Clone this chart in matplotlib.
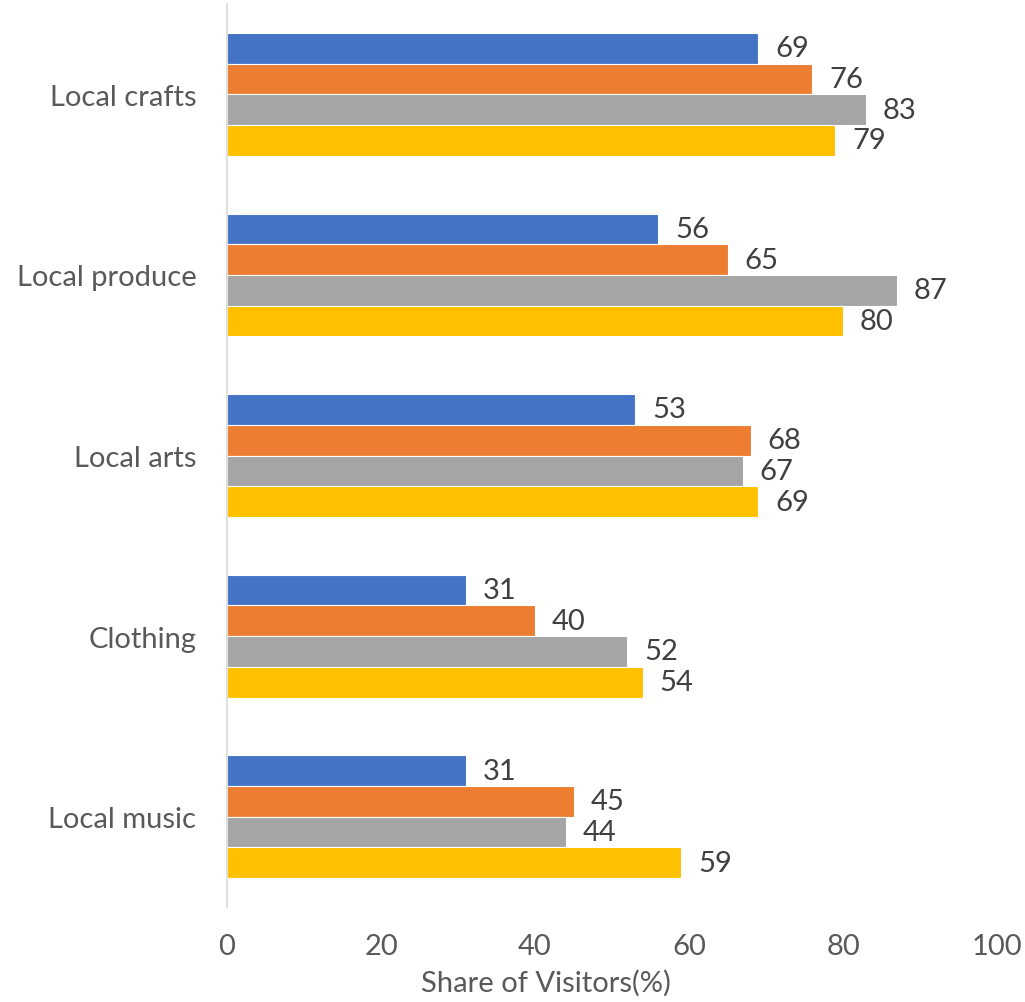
import numpy as np
import matplotlib.pyplot as plt

plt.rcParams['font.family'] = ['Lato', 'DejaVu Sans']

# categories listed bottom to top
categories = ["Local music", "Clothing", "Local arts", "Local produce", "Local crafts"]
series_1 = [31, 31, 53, 56, 69]
series_2 = [45, 40, 68, 65, 76]
series_3 = [44, 52, 67, 87, 83]
series_4 = [59, 54, 69, 80, 79]
colors = ["#4472C4", "#ED7D31", "#A5A5A5", "#FFC000"]
x_ticks = [0, 20, 40, 60, 80, 100]

fig = plt.figure(figsize=(10.25, 10.03), dpi=100)
ax = fig.add_axes([0.2215, 0.0947, 0.7512, 0.9003])

y = np.arange(len(categories))
h = 0.17
all_series = [series_1, series_2, series_3, series_4]
for i, (vals, c) in enumerate(zip(all_series, colors)):
    # first series sits on top within each group
    pos = y + (1.5 - i) * h
    bars = ax.barh(pos, vals, height=h, color=c, edgecolor="white", linewidth=0.8)
    for b, v in zip(bars, vals):
        ax.text(v + 2.2, b.get_y() + h / 2, str(v), va="center", ha="left",
                fontsize=21, color="#404040")

ax.set_xlim(0, 100)
ax.set_ylim(-0.5, 4.5)
ax.set_xticks(x_ticks)
ax.set_yticks(y)
ax.set_yticklabels(categories)
ax.tick_params(axis="both", length=0, labelsize=21, colors="#595959")
ax.tick_params(axis="y", pad=22)
ax.tick_params(axis="x", pad=19)

for s in ["top", "right", "bottom"]:
    ax.spines[s].set_visible(False)
ax.spines["left"].set_color("#D9D9D9")
ax.spines["left"].set_linewidth(1.2)

ax.set_xlabel("Share of Visitors(%)", fontsize=21, color="#595959")
ax.xaxis.set_label_coords(0.414, -0.068)

plt.savefig("out.png", dpi=100)
